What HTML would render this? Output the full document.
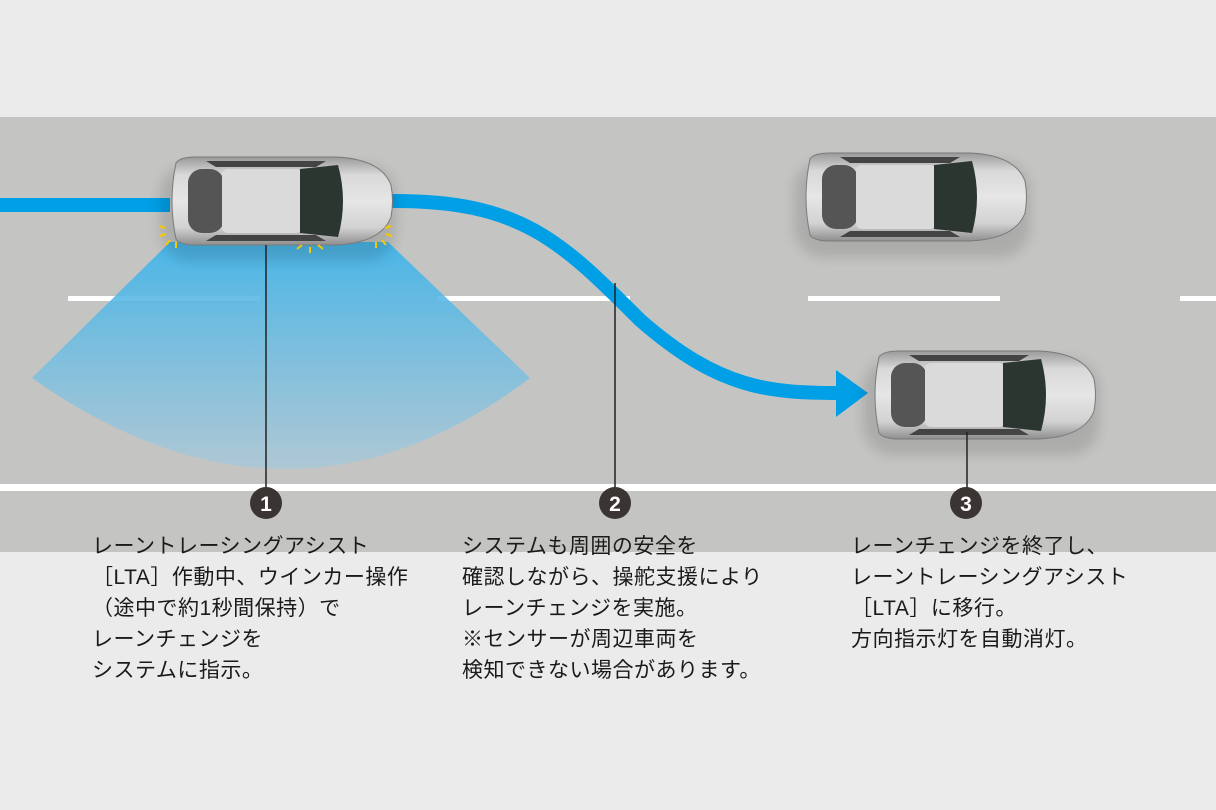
<!DOCTYPE html>
<html><head><meta charset="utf-8"><style>
body{margin:0;width:1216px;height:810px;background:#ebebeb;overflow:hidden;position:relative;font-family:"Liberation Sans","Noto Sans CJK JP",sans-serif}
svg{position:absolute;left:0;top:0}
.t{position:absolute;font-size:21px;line-height:31px;color:#1a1a1a;white-space:nowrap;letter-spacing:0.5px}
</style></head><body>
<svg width="1216" height="810" viewBox="0 0 1216 810">
<defs>
<linearGradient id="fan" x1="0" y1="0" x2="0" y2="1">
<stop offset="0" stop-color="#3fb4ea"/><stop offset="1" stop-color="#a9c8d8" stop-opacity="0.9"/></linearGradient>
<linearGradient id="body" x1="0" y1="0" x2="0" y2="1">
<stop offset="0" stop-color="#9a9a9a"/><stop offset="0.2" stop-color="#d8d8d8"/><stop offset="0.5" stop-color="#e6e6e6"/><stop offset="0.8" stop-color="#d2d2d2"/><stop offset="1" stop-color="#8f8f8f"/></linearGradient>
<filter id="bl"><feGaussianBlur stdDeviation="6"/></filter>
<g id="car">
<rect x="-6" y="8" width="236" height="96" rx="30" fill="#000" opacity="0.12" filter="url(#bl)"/>
<path d="M10 6 Q2 44 10 82 Q14 88 30 88 L170 88 Q215 86 225 60 Q228 44 225 28 Q215 2 170 0 L30 0 Q14 0 10 6Z" fill="url(#body)" stroke="#7a7a7a" stroke-width="1"/>
<rect x="22" y="12" width="36" height="64" rx="14" fill="#555"/>
<rect x="56" y="12" width="80" height="64" rx="6" fill="#dadada"/>
<path d="M134 12 L172 8 Q182 44 172 80 L134 76Z" fill="#2c3630"/>
<path d="M40 4 L160 4 L150 10 L50 10Z" fill="#444"/>
<path d="M40 84 L160 84 L150 78 L50 78Z" fill="#444"/>
</g>
</defs>
<rect x="0" y="117" width="1216" height="435" fill="#c4c4c2"/>
<g fill="#fff">
<rect x="68" y="296" width="192" height="5"/><rect x="438" y="296" width="192" height="5"/>
<rect x="808" y="296" width="192" height="5"/><rect x="1180" y="296" width="36" height="5"/>
<rect x="0" y="484" width="1216" height="7"/>
</g>
<path d="M170 242 L388 242 L530 378 Q290 560 32 378Z" fill="url(#fan)" opacity="0.92"/>
<path d="M0 205 L170 205" stroke="#009fe6" stroke-width="14" fill="none"/>
<path d="M390 201 C520 200 560 240 640 320 C720 390 770 393 842 393" stroke="#009fe6" stroke-width="14" fill="none"/>
<path d="M836 370 L868 393 L836 417Z" fill="#009fe6"/>
<use href="#car" x="166" y="157"/>
<use href="#car" x="800" y="153"/>
<use href="#car" x="869" y="351"/>
<g stroke="#f5c800" stroke-width="2">
<path d="M165 228 l-6 -2 M166 234 l-6 2 M170 240 l-4 5 M176 242 l0 6 M385 228 l6 -2 M386 234 l6 2 M382 240 l4 5 M376 242 l0 6 M310 247 l0 6 M302 245 l-5 4 M318 245 l5 4"/>
</g>
<g stroke="#222" stroke-width="1.5">
<line x1="266" y1="245" x2="266" y2="490"/><line x1="615" y1="283" x2="615" y2="490"/><line x1="967" y1="432" x2="967" y2="490"/>
</g>
<g fill="#3a3433"><circle cx="266" cy="503" r="16"/><circle cx="615" cy="503" r="16"/><circle cx="966" cy="503" r="16"/></g>
<g fill="#fff" font-size="21" font-family="Liberation Sans,sans-serif" text-anchor="middle" font-weight="bold">
<text x="266" y="511">1</text><text x="615" y="511">2</text><text x="966" y="511">3</text></g>
</svg>
<div class="t" style="left:92px;top:531px">レーントレーシングアシスト<br>［LTA］作動中、ウインカー操作<br>（途中で約1秒間保持）で<br>レーンチェンジを<br>システムに指示。</div>
<div class="t" style="left:462px;top:531px">システムも周囲の安全を<br>確認しながら、操舵支援により<br>レーンチェンジを実施。<br>※センサーが周辺車両を<br>検知できない場合があります。</div>
<div class="t" style="left:851px;top:531px">レーンチェンジを終了し、<br>レーントレーシングアシスト<br>［LTA］に移行。<br>方向指示灯を自動消灯。</div>
</body></html>
